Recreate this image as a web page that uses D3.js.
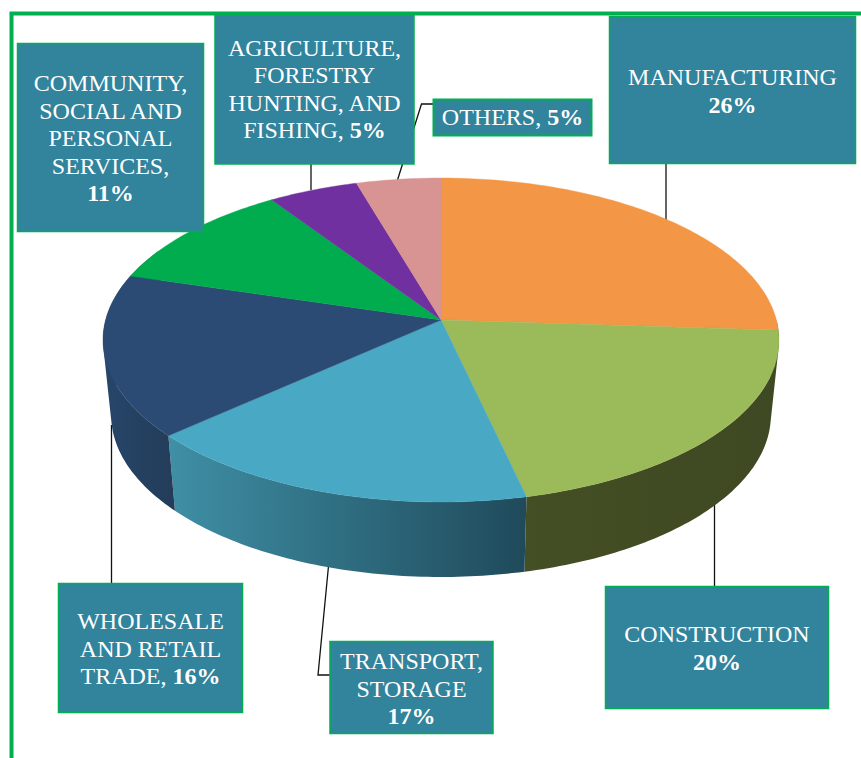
<!DOCTYPE html>
<html>
<head>
<meta charset="utf-8">
<script src="https://cdn.jsdelivr.net/npm/d3@7"></script>
<style>
html,body{margin:0;padding:0;background:#fff;overflow:hidden}
svg{display:block}
text{font-family:"Liberation Serif","Times New Roman",serif;fill:#fff;font-size:24px;text-anchor:middle;white-space:pre}
</style>
</head>
<body>
<svg id="c" width="861" height="758"></svg>
<script>
// ---- data ----
const categories = ["MANUFACTURING","CONSTRUCTION","TRANSPORT, STORAGE","WHOLESALE AND RETAIL TRADE","COMMUNITY, SOCIAL AND PERSONAL SERVICES","AGRICULTURE, FORESTRY HUNTING, AND FISHING","OTHERS"];
const shares = [26, 20.4, 17, 16.2, 11, 4.85, 4.55];
const percentLabels = ["26%","20%","17%","16%","11%","5%","5%"];
const labelLines = [
  ["MANUFACTURING",""],
  ["CONSTRUCTION",""],
  ["TRANSPORT,","STORAGE",""],
  ["WHOLESALE","AND RETAIL","TRADE, "],
  ["COMMUNITY,","SOCIAL AND","PERSONAL","SERVICES,",""],
  ["AGRICULTURE,","FORESTRY","HUNTING, AND","FISHING, "],
  ["OTHERS, "]
];
const topColors = ["#f39645","#9bba59","#49a8c3","#2b4b74","#00ac4e","#7030a0","#d79492"];
const wallStart = ["#454f24","#454f24","#3f8fa5","#26466a","#006a30","#431c60","#825958"];
const wallEnd   = ["#3e4822","#3e4822","#1f4a5b","#233c59","#006a30","#431c60","#825958"];

// ---- layout (not data) ----
const boxes = [
  {x:609.5,y:16.5,w:246,h:147,base:85,lw:1.5},
  {x:605.5,y:586.5,w:223,h:122,base:642,lw:1.5},
  {x:330,y:641.5,w:163,h:92,base:669,lw:1.5},
  {x:58.5,y:583.5,w:184,h:129,base:629,lw:1.5},
  {x:17.5,y:43.5,w:186,h:188,base:91,lw:1.5},
  {x:215,y:15,w:199,h:149,base:55.7,lw:1.5},
  {x:433.5,y:99.5,w:158,h:36,base:125,lw:2}
];
const leaders = [
  [[666,163],[666,222]],
  [[714.5,505],[714.5,586]],
  [[328.5,566],[318,675],[330,675]],
  [[111.5,425],[111.5,583]],
  [],
  [[311,164],[311,190]],
  [[433,104],[421.5,104],[397.5,180]]
];

const svg = d3.select("#c");
const defs = svg.append("defs");

// frame
svg.append("path").attr("d","M861,13.5H11.5V758").attr("fill","none").attr("stroke","#00b050").attr("stroke-width",4);

// perspective mapping of the pie disc
const cx = 441, cy = 320, A = 335.4, B = 159.5, K = 0.1235, DEPTH = 75, SHRINK = 0.976;
const project = th => {
  const u = Math.sin(th), v = Math.cos(th), w = 1 + K * v;
  return [cx + A * u / w, cy - B * v / w];
};
const projectLow = th => {
  const [x, y] = project(th);
  return [cx + (x - cx) * SHRINK, y + DEPTH];
};
const arcs = d3.pie().sort(null).value(d => d).startAngle(0).endAngle(2 * Math.PI)(shares);
const line = d3.line();
const samplesBetween = (a, b) => {
  const n = Math.max(4, Math.ceil((b - a) * 60));
  return d3.range(n + 1).map(i => a + (b - a) * i / n);
};
const samples = d => samplesBetween(d.startAngle, d.endAngle);

// leader lines sit behind the pie
svg.append("g").selectAll("path").data(leaders.filter(l => l.length)).join("path")
  .attr("d", d => line(d)).attr("fill","none").attr("stroke","#111").attr("stroke-width",1.3);

// walls: only the front half of the rim is visible. One path made of a quad per rim
// step, all wound the same way, so the silhouette stays filled and no seams show.
const FRONT_FROM = Math.PI / 2, FRONT_TO = Math.PI * 1.65;
arcs.forEach((d, i) => {
  const a = Math.max(d.startAngle, FRONT_FROM), b = Math.min(d.endAngle, FRONT_TO);
  if (b <= a) return;
  const ths = samplesBetween(a, b);
  const up = ths.map(project), low = ths.map(projectLow);
  const xs = up.concat(low).map(p => p[0]);
  const id = "wall" + i;
  const g = defs.append("linearGradient").attr("id", id).attr("gradientUnits","userSpaceOnUse")
    .attr("x1", d3.min(xs)).attr("x2", d3.max(xs)).attr("y1",0).attr("y2",0);
  g.append("stop").attr("offset",0).attr("stop-color", wallStart[i]);
  g.append("stop").attr("offset",1).attr("stop-color", wallEnd[i]);
  const quads = d3.range(ths.length - 1).map(k => {
    const q = [up[k], up[k + 1], low[k + 1], low[k]];
    return (d3.polygonArea(q) < 0 ? q.reverse() : q);
  });
  svg.append("path").attr("d", quads.map(q => line(q) + "Z").join(""))
    .attr("fill", `url(#${id})`);
});

// top face
svg.append("g").selectAll("path").data(arcs).join("path")
  .attr("d", d => line([[cx, cy]].concat(samples(d).map(project))) + "Z")
  .attr("fill", (d, i) => topColors[i])
  .attr("stroke", (d, i) => topColors[i]).attr("stroke-width",0.4);

// label boxes
const lab = svg.append("g").selectAll("g").data(categories).join("g");
lab.append("rect")
  .attr("x",(d,i)=>boxes[i].x).attr("y",(d,i)=>boxes[i].y)
  .attr("width",(d,i)=>boxes[i].w).attr("height",(d,i)=>boxes[i].h)
  .attr("fill","#32839c").attr("stroke","#00b050").attr("stroke-width",(d,i)=>boxes[i].lw);
lab.each(function(d, i) {
  const g = d3.select(this), b = boxes[i], mid = b.x + b.w / 2;
  labelLines[i].forEach((txt, j) => {
    const isLast = j === labelLines[i].length - 1;
    const t = g.append("text").attr("x", mid).attr("y", b.base + j * 27.5);
    if (txt) t.append("tspan").text(txt);
    if (isLast) t.append("tspan").attr("font-weight","bold").text(percentLabels[i]);
  });
});
</script>
</body>
</html>
